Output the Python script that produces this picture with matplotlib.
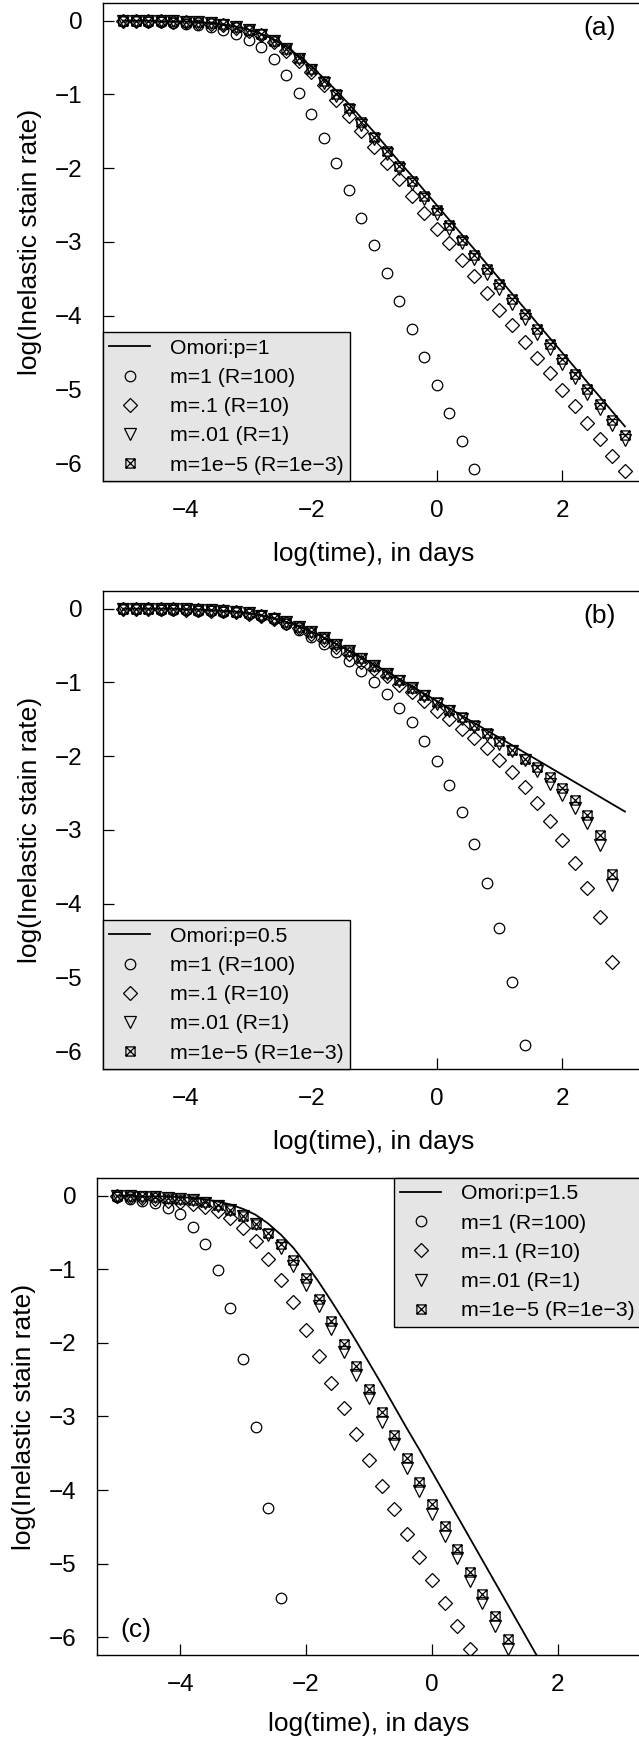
import matplotlib
matplotlib.use('Agg')
import matplotlib.pyplot as plt
from matplotlib.path import Path
from matplotlib.lines import Line2D

plt.rcParams['font.family'] = ['Liberation Sans', 'DejaVu Sans']

# log10 of time (days), one model output every 0.2
log_t = [-5.0, -4.8, -4.6, -4.4, -4.2, -4.0, -3.8, -3.6, -3.4, -3.2,
         -3.0, -2.8, -2.6, -2.4, -2.2, -2.0, -1.8, -1.6, -1.4, -1.2,
         -1.0, -0.8, -0.6, -0.4, -0.2, 0.0, 0.2, 0.4, 0.6, 0.8,
         1.0, 1.2, 1.4, 1.6, 1.8, 2.0, 2.2, 2.4, 2.6, 2.8, 3.0]

# ---- panel (a): Omori p=1
omori_a = [-0.00, -0.00, -0.00, -0.01, -0.01, -0.01, -0.02, -0.03, -0.05, -0.08,
           -0.12, -0.18, -0.25, -0.35, -0.48, -0.62, -0.78, -0.95, -1.13, -1.32,
           -1.51, -1.71, -1.91, -2.10, -2.30, -2.50, -2.70, -2.90, -3.10, -3.30,
           -3.50, -3.70, -3.90, -4.10, -4.30, -4.50, -4.70, -4.90, -5.10, -5.30, -5.50]
m1_a = [-0.01, -0.01, -0.015, -0.02, -0.03, -0.04, -0.06, -0.08, -0.12, -0.185,
        -0.26, -0.36, -0.52, -0.73, -0.98, -1.26, -1.59, -1.93, -2.30, -2.67,
        -3.04, -3.42, -3.80, -4.18, -4.56, -4.94, -5.32, -5.70, -6.08]
m01_a = [0.0, -0.005, -0.01, -0.01, -0.015, -0.02, -0.03, -0.045, -0.065, -0.10,
         -0.14, -0.20, -0.29, -0.41, -0.54, -0.69, -0.87, -1.07, -1.29, -1.49,
         -1.71, -1.93, -2.15, -2.38, -2.61, -2.82, -3.02, -3.24, -3.46, -3.69,
         -3.92, -4.12, -4.35, -4.57, -4.78, -5.00, -5.22, -5.45, -5.67, -5.90, -6.10]
m001_a = [0.0, 0.0, 0.0, -0.01, -0.01, -0.015, -0.02, -0.035, -0.055, -0.085,
          -0.13, -0.19, -0.28, -0.39, -0.52, -0.67, -0.84, -1.02, -1.21, -1.41,
          -1.61, -1.81, -2.01, -2.21, -2.42, -2.62, -2.82, -3.02, -3.23, -3.43,
          -3.64, -3.84, -4.04, -4.25, -4.45, -4.65, -4.85, -5.06, -5.27, -5.48, -5.69]
m1e5_a = [0.0, 0.0, 0.0, -0.005, -0.01, -0.015, -0.02, -0.035, -0.05, -0.08,
          -0.125, -0.18, -0.27, -0.38, -0.50, -0.65, -0.82, -0.99, -1.18, -1.37,
          -1.57, -1.77, -1.97, -2.17, -2.37, -2.57, -2.77, -2.97, -3.17, -3.37,
          -3.57, -3.77, -3.98, -4.18, -4.38, -4.58, -4.79, -4.99, -5.20, -5.41, -5.62]

# ---- panel (b): Omori p=0.5
omori_b = [-0.00, -0.00, -0.00, -0.00, -0.00, -0.01, -0.01, -0.02, -0.03, -0.04,
           -0.06, -0.09, -0.13, -0.18, -0.24, -0.31, -0.39, -0.48, -0.57, -0.66,
           -0.76, -0.85, -0.95, -1.05, -1.15, -1.25, -1.35, -1.45, -1.55, -1.65,
           -1.75, -1.85, -1.95, -2.05, -2.15, -2.25, -2.35, -2.45, -2.55, -2.65, -2.75]
m1_b = [-0.005, -0.007, -0.01, -0.012, -0.015, -0.02, -0.025, -0.03, -0.04, -0.05,
        -0.07, -0.10, -0.14, -0.21, -0.29, -0.38, -0.48, -0.59, -0.71, -0.84,
        -1.00, -1.16, -1.34, -1.54, -1.79, -2.07, -2.39, -2.75, -3.19, -3.72,
        -4.33, -5.06, -5.92]
m01_b = [0.0, -0.003, -0.005, -0.007, -0.01, -0.013, -0.018, -0.025, -0.035, -0.05,
         -0.07, -0.10, -0.14, -0.19, -0.26, -0.34, -0.43, -0.52, -0.62, -0.72,
         -0.82, -0.91, -1.03, -1.13, -1.25, -1.38, -1.50, -1.63, -1.75, -1.89,
         -2.05, -2.21, -2.42, -2.63, -2.88, -3.14, -3.45, -3.78, -4.18, -4.79]
m001_b = [0.0, 0.0, 0.0, -0.005, -0.005, -0.01, -0.013, -0.02, -0.03, -0.045,
          -0.065, -0.095, -0.135, -0.185, -0.25, -0.32, -0.40, -0.49, -0.58, -0.68,
          -0.78, -0.88, -0.98, -1.08, -1.18, -1.29, -1.39, -1.50, -1.60, -1.71,
          -1.83, -1.93, -2.05, -2.20, -2.38, -2.53, -2.70, -2.90, -3.20, -3.75]
m1e5_b = [0.0, 0.0, 0.0, -0.003, -0.005, -0.008, -0.012, -0.018, -0.028, -0.042,
          -0.062, -0.09, -0.13, -0.18, -0.245, -0.315, -0.395, -0.48, -0.575, -0.67,
          -0.77, -0.87, -0.97, -1.07, -1.17, -1.27, -1.37, -1.47, -1.58, -1.69,
          -1.80, -1.92, -2.04, -2.15, -2.28, -2.43, -2.59, -2.79, -3.07, -3.59]

# ---- panel (c): Omori p=1.5
omori_c = [-0.00, -0.00, -0.01, -0.01, -0.01, -0.02, -0.03, -0.05, -0.08, -0.12,
           -0.18, -0.26, -0.38, -0.53, -0.71, -0.93, -1.17, -1.43, -1.70, -1.98,
           -2.27, -2.56, -2.86, -3.16, -3.45, -3.75, -4.05, -4.35, -4.65, -4.95,
           -5.25, -5.55, -5.85, -6.15, -6.45, -6.75, -7.05, -7.35, -7.65, -7.95, -8.25]
m1_c = [-0.02, -0.04, -0.07, -0.10, -0.17, -0.25, -0.42, -0.66, -1.01, -1.52,
        -2.22, -3.14, -4.24, -5.46]
m01_c = [-0.01, -0.02, -0.03, -0.05, -0.07, -0.09, -0.12, -0.16, -0.21, -0.31,
         -0.44, -0.62, -0.86, -1.15, -1.45, -1.83, -2.18, -2.54, -2.89, -3.24,
         -3.59, -3.94, -4.25, -4.59, -4.91, -5.22, -5.53, -5.84, -6.16]
m001_c = [-0.003, -0.006, -0.012, -0.02, -0.03, -0.045, -0.065, -0.095, -0.14, -0.20,
          -0.28, -0.39, -0.53, -0.71, -0.95, -1.22, -1.50, -1.81, -2.12, -2.44,
          -2.75, -3.07, -3.37, -3.70, -4.01, -4.33, -4.63, -4.92, -5.23, -5.54,
          -5.84, -6.16]
m1e5_c = [0.0, -0.005, -0.01, -0.015, -0.025, -0.04, -0.06, -0.09, -0.13, -0.19,
          -0.27, -0.38, -0.51, -0.66, -0.87, -1.12, -1.40, -1.70, -2.01, -2.31,
          -2.63, -2.94, -3.25, -3.57, -3.89, -4.19, -4.49, -4.80, -5.11, -5.41,
          -5.71, -6.02]

run_labels = ['m=1 (R=100)', 'm=.1 (R=10)', 'm=.01 (R=1)', 'm=1e\u22125 (R=1e\u22123)']

# square with an X through it
box_x = Path([(-1, -1), (1, -1), (1, 1), (-1, 1), (-1, -1),
              (-1, -1), (1, 1), (-1, 1), (1, -1)],
             [Path.MOVETO, Path.LINETO, Path.LINETO, Path.LINETO, Path.CLOSEPOLY,
              Path.MOVETO, Path.LINETO, Path.MOVETO, Path.LINETO])

markers = [('o', 7.6), ('D', 6.8), ('v', 8.6), (box_x, 6.6)]
pt_style = dict(ls='none', mfc='none', mec='black', mew=0.9)


def draw_panel(ax, omori, runs, p_label, legend_loc, tag, tag_xy, xlab_y):
    ax.plot(log_t[:len(omori)], omori, color='black', lw=1.3, zorder=3)
    for vals, (mk, ms) in zip(runs, markers):
        ax.plot(log_t[:len(vals)], vals, marker=mk, ms=ms, zorder=2, **pt_style)

    ax.set_xlim(-5.32, 3.32)
    ax.set_ylim(-6.24, 0.24)
    ax.set_xticks([-4, -2, 0, 2])
    ax.set_yticks([0, -1, -2, -3, -4, -5, -6])
    ax.tick_params(direction='in', length=8, width=0.9, labelsize=17.5)
    ax.tick_params(axis='x', pad=14)
    ax.tick_params(axis='y', pad=15)
    for s in ax.spines.values():
        s.set_linewidth(1.0)

    ax.set_xlabel('log(time), in days', fontsize=19)
    ax.set_ylabel('log(Inelastic stain rate)', fontsize=19)
    ax.xaxis.set_label_coords(0.5, xlab_y)
    ax.yaxis.set_label_coords(-0.112, 0.5)

    ax.text(tag_xy[0], tag_xy[1], tag, fontsize=19, ha='center', va='center')

    handles = [Line2D([], [], color='black', lw=1.3)]
    for mk, ms in markers:
        handles.append(Line2D([], [], marker=mk, ms=ms, **pt_style))
    leg = ax.legend(handles, ['Omori:p=' + p_label] + run_labels, loc=legend_loc,
                    borderaxespad=0, fontsize=15.3, fancybox=False,
                    edgecolor='black', facecolor='#e5e5e5', framealpha=1,
                    borderpad=0.3, labelspacing=0.48, handlelength=1.9,
                    handletextpad=0.95)
    leg.get_frame().set_linewidth(1.0)


fig = plt.figure(figsize=(6.39, 17.43), dpi=100)
W, H = 639, 1743
ax_a = fig.add_axes([103 / W, 1 - 481 / H, 542 / W, 478 / H])
ax_b = fig.add_axes([103 / W, 1 - 1069 / H, 542 / W, 478 / H])
ax_c = fig.add_axes([97 / W, 1 - 1655 / H, 544 / W, 477 / H])

draw_panel(ax_a, omori_a, [m1_a, m01_a, m001_a, m1e5_a], '1', 'lower left',
           '(a)', (2.6, -0.1), -0.127)
draw_panel(ax_b, omori_b, [m1_b, m01_b, m001_b, m1e5_b], '0.5', 'lower left',
           '(b)', (2.6, -0.1), -0.127)
draw_panel(ax_c, omori_c, [m1_c, m01_c, m001_c, m1e5_c], '1.5', 'upper right',
           '(c)', (-4.7, -5.9), -0.12)

fig.savefig('out.png', dpi=100)
